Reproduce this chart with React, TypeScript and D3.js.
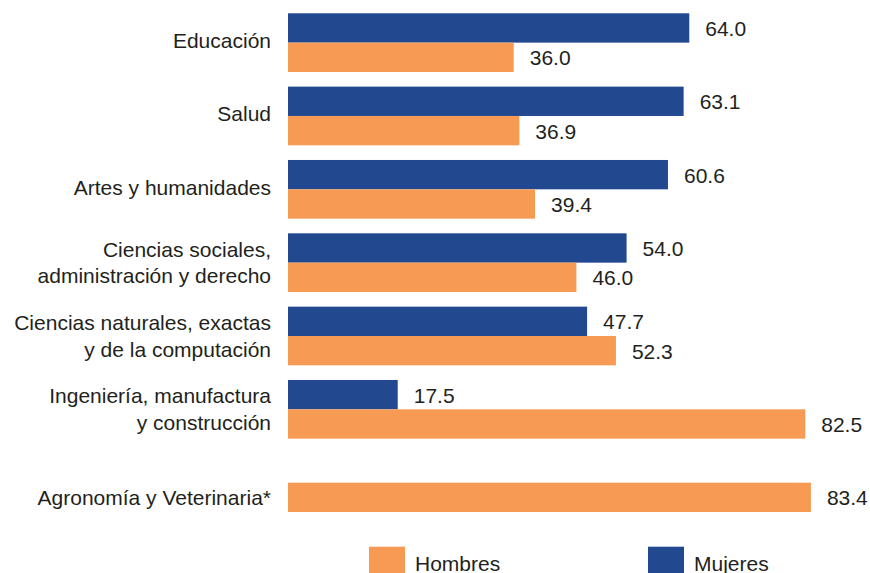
import React from 'react';
import { scaleBand, scaleLinear } from 'd3';

const categories = [
  'Educación',
  'Salud',
  'Artes y humanidades',
  'Ciencias sociales,\nadministración y derecho',
  'Ciencias naturales, exactas\ny de la computación',
  'Ingeniería, manufactura\ny construcción',
  'Agronomía y Veterinaria*',
];
const mujeres: (number | null)[] = [64.0, 63.1, 60.6, 54.0, 47.7, 17.5, null];
const hombres: number[] = [36.0, 36.9, 39.4, 46.0, 52.3, 82.5, 83.4];
const seriesNames = ['Mujeres', 'Hombres'];

const BLUE = '#22488f';
const ORANGE = '#f79a53';
const TEXT = '#231f20';
const FONT = '"Liberation Sans", Arial, Helvetica, sans-serif';

export default function App() {
  const width = 870;
  const height = 573;

  const x = scaleLinear().domain([0, 100]).range([288, 915]);
  const y = scaleBand<string>().domain(categories).range([13.3, 512]).paddingInner(0.2).paddingOuter(0);
  const sub = scaleBand<string>().domain(seriesNames).range([0, y.bandwidth()]);
  const color = { Mujeres: BLUE, Hombres: ORANGE } as Record<string, string>;

  const lineH = 26.7;

  return (
    <svg width={width} height={height} style={{ position: 'absolute', left: 0, top: 0, background: '#fff' }}
      fontFamily={FONT}>
      {categories.map((cat, i) => {
        const y0 = y(cat)!;
        const vals: Record<string, number | null> = { Mujeres: mujeres[i], Hombres: hombres[i] };
        const onlyOne = mujeres[i] === null;
        const center = onlyOne ? y0 + sub('Hombres')! + sub.bandwidth() / 2 : y0 + y.bandwidth() / 2;
        const lines = cat.split('\n');
        const shift = lines.length === 1 && !onlyOne ? -2 : 0;
        return (
          <g key={cat}>
            <text x={271} textAnchor="end" fontSize={21} fill={TEXT}>
              {lines.map((ln, k) => (
                <tspan key={k} x={271} y={center + shift + (k - (lines.length - 1) / 2) * lineH} dy="0.35em">{ln}</tspan>
              ))}
            </text>
            {seriesNames.map((s) => {
              const v = vals[s];
              if (v === null || v === undefined) return null;
              const by = y0 + sub(s)!;
              return (
                <g key={s}>
                  <rect x={x(0)} y={by} width={x(v) - x(0)} height={sub.bandwidth()} fill={color[s]} />
                  <text x={x(v) + 16} y={by + sub.bandwidth() / 2} dy="0.38em" fontSize={21} fill={TEXT}>
                    {v.toFixed(1)}
                  </text>
                </g>
              );
            })}
          </g>
        );
      })}
      <g>
        <rect x={369} y={546.7} width={36} height={30} fill={ORANGE} />
        <text x={415} y={571} fontSize={21} fill={TEXT}>Hombres</text>
        <rect x={648} y={546.7} width={36} height={30} fill={BLUE} />
        <text x={694} y={571} fontSize={21} fill={TEXT}>Mujeres</text>
      </g>
    </svg>
  );
}
